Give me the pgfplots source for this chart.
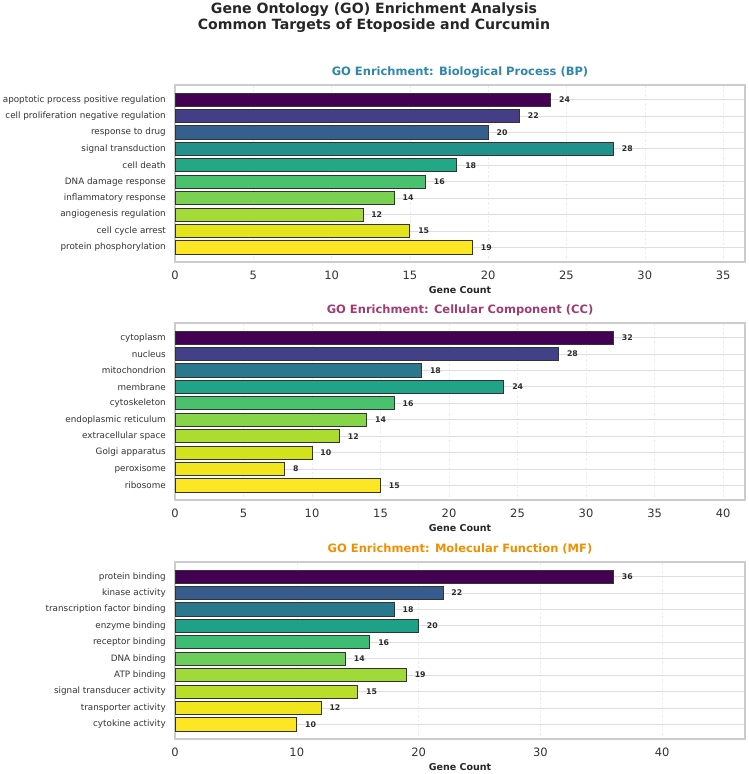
\documentclass[border=0pt]{standalone}
\usepackage{pgfplots}
\pgfplotsset{compat=1.18}
\usepackage{pgfplotstable}
\usepackage{fontspec}
\setmainfont{DejaVu Sans}

% text and frame colours
\definecolor{spine}{HTML}{CCCCCC}
\definecolor{gridx}{HTML}{EDEDED}
\definecolor{gridy}{HTML}{DDDDDD}
\definecolor{tickc}{HTML}{333333}
\definecolor{labelc}{HTML}{333333}
\definecolor{valc}{HTML}{2B2B2B}
\definecolor{edgec}{HTML}{333333}
\definecolor{titlec}{HTML}{262626}
\definecolor{bpcol}{HTML}{2E86AB}
\definecolor{cccol}{HTML}{A23B72}
\definecolor{mfcol}{HTML}{F18F01}

% bar fills, Biological Process
\definecolor{bp0}{HTML}{440154}
\definecolor{bp1}{HTML}{433E85}
\definecolor{bp2}{HTML}{355F8D}
\definecolor{bp3}{HTML}{21918C}
\definecolor{bp4}{HTML}{22A884}
\definecolor{bp5}{HTML}{4AC16D}
\definecolor{bp6}{HTML}{7AD151}
\definecolor{bp7}{HTML}{A5DB36}
\definecolor{bp8}{HTML}{E5E419}
\definecolor{bp9}{HTML}{FDE725}
% bar fills, Cellular Component
\definecolor{cc0}{HTML}{440154}
\definecolor{cc1}{HTML}{424086}
\definecolor{cc2}{HTML}{2A788E}
\definecolor{cc3}{HTML}{20A386}
\definecolor{cc4}{HTML}{4AC16D}
\definecolor{cc5}{HTML}{86D549}
\definecolor{cc6}{HTML}{ADDC30}
\definecolor{cc7}{HTML}{D2E21B}
\definecolor{cc8}{HTML}{F1E51D}
\definecolor{cc9}{HTML}{FDE725}
% bar fills, Molecular Function
\definecolor{mf0}{HTML}{440154}
\definecolor{mf1}{HTML}{365C8D}
\definecolor{mf2}{HTML}{2A788E}
\definecolor{mf3}{HTML}{1FA187}
\definecolor{mf4}{HTML}{3DBC74}
\definecolor{mf5}{HTML}{6CCD5A}
\definecolor{mf6}{HTML}{A0DA39}
\definecolor{mf7}{HTML}{B8DE29}
\definecolor{mf8}{HTML}{F1E51D}
\definecolor{mf9}{HTML}{FDE725}

\pgfplotstableread[col sep=comma]{
idx,count,term
0,24,apoptotic process positive regulation
1,22,cell proliferation negative regulation
2,20,response to drug
3,28,signal transduction
4,18,cell death
5,16,DNA damage response
6,14,inflammatory response
7,12,angiogenesis regulation
8,15,cell cycle arrest
9,19,protein phosphorylation
}\bptable

\pgfplotstableread[col sep=comma]{
idx,count,term
0,32,cytoplasm
1,28,nucleus
2,18,mitochondrion
3,24,membrane
4,16,cytoskeleton
5,14,endoplasmic reticulum
6,12,extracellular space
7,10,Golgi apparatus
8,8,peroxisome
9,15,ribosome
}\cctable

\pgfplotstableread[col sep=comma]{
idx,count,term
0,36,protein binding
1,22,kinase activity
2,18,transcription factor binding
3,20,enzyme binding
4,16,receptor binding
5,14,DNA binding
6,19,ATP binding
7,15,signal transducer activity
8,12,transporter activity
9,10,cytokine activity
}\mftable

\pgfplotsset{
  goaxis/.style={
    scale only axis, width=570pt, height=177pt, anchor=south west,
    xmin=0, ymin=-0.89, ymax=9.89, y dir=reverse,
    ytick={0,...,9},
    major tick length=0pt,
    axis line style={draw=spine, line width=1.1pt},
    xmajorgrids, ymajorgrids,
    x grid style={draw=gridx, dash pattern=on 2.5pt off 2pt, line width=0.5pt},
    y grid style={draw=gridy, line width=0.9pt},
    /pgf/number format/assume math mode=true,
    xticklabel style={font=\fontsize{11.5}{13}\selectfont, text=tickc, anchor=center, inner sep=0pt, yshift=-13pt},
    yticklabel style={font=\fontsize{8.8}{10}\selectfont, text=labelc, anchor=east, inner sep=0pt, xshift=-9pt},
  },
  gobar/.style={
    xbar, bar width=0.8, bar shift=0pt, draw=edgec, line width=0.8pt,
    point meta=x, nodes near coords,
    nodes near coords style={font=\bfseries\fontsize{7.8}{9}\selectfont, text=valc, anchor=west, inner sep=0pt, xshift=8pt},
  },
}
\tikzset{
  paneltitle/.style={font=\bfseries\fontsize{11.5}{13}\selectfont},
  xname/.style={text=titlec, font=\bfseries\fontsize{9.5}{11}\selectfont},
}

\begin{document}
\begin{tikzpicture}[x=1pt,y=1pt]
\useasboundingbox (0,0) rectangle (749,774);

\node[align=center, text=titlec, font=\bfseries\fontsize{14.1}{16.5}\selectfont] at (374,756.5)
  {Gene Ontology (GO) Enrichment Analysis\\Common Targets of Etoposide and Curcumin};

% Biological Process
\begin{axis}[goaxis, at={(175pt,512pt)}, xmax=36.4, xtick={0,5,...,35},
  yticklabels from table={\bptable}{term}]
\pgfplotsinvokeforeach{0,...,9}{
  \addplot[gobar, fill=bp#1, restrict y to domain=#1:#1] table[x=count, y=idx]{\bptable};
}
\end{axis}
\node[paneltitle, text=bpcol] at (460,702) {GO Enrichment: Biological Process (BP)};
\node[xname] at (460,484) {Gene Count};

% Cellular Component
\begin{axis}[goaxis, at={(175pt,274pt)}, xmax=41.6, xtick={0,5,...,40},
  yticklabels from table={\cctable}{term}]
\pgfplotsinvokeforeach{0,...,9}{
  \addplot[gobar, fill=cc#1, restrict y to domain=#1:#1] table[x=count, y=idx]{\cctable};
}
\end{axis}
\node[paneltitle, text=cccol] at (460,464) {GO Enrichment: Cellular Component (CC)};
\node[xname] at (460,246) {Gene Count};

% Molecular Function
\begin{axis}[goaxis, at={(175pt,35pt)}, xmax=46.8, xtick={0,10,...,40},
  yticklabels from table={\mftable}{term}]
\pgfplotsinvokeforeach{0,...,9}{
  \addplot[gobar, fill=mf#1, restrict y to domain=#1:#1] table[x=count, y=idx]{\mftable};
}
\end{axis}
\node[paneltitle, text=mfcol] at (460,225) {GO Enrichment: Molecular Function (MF)};
\node[xname] at (460,7) {Gene Count};
\end{tikzpicture}
\end{document}
